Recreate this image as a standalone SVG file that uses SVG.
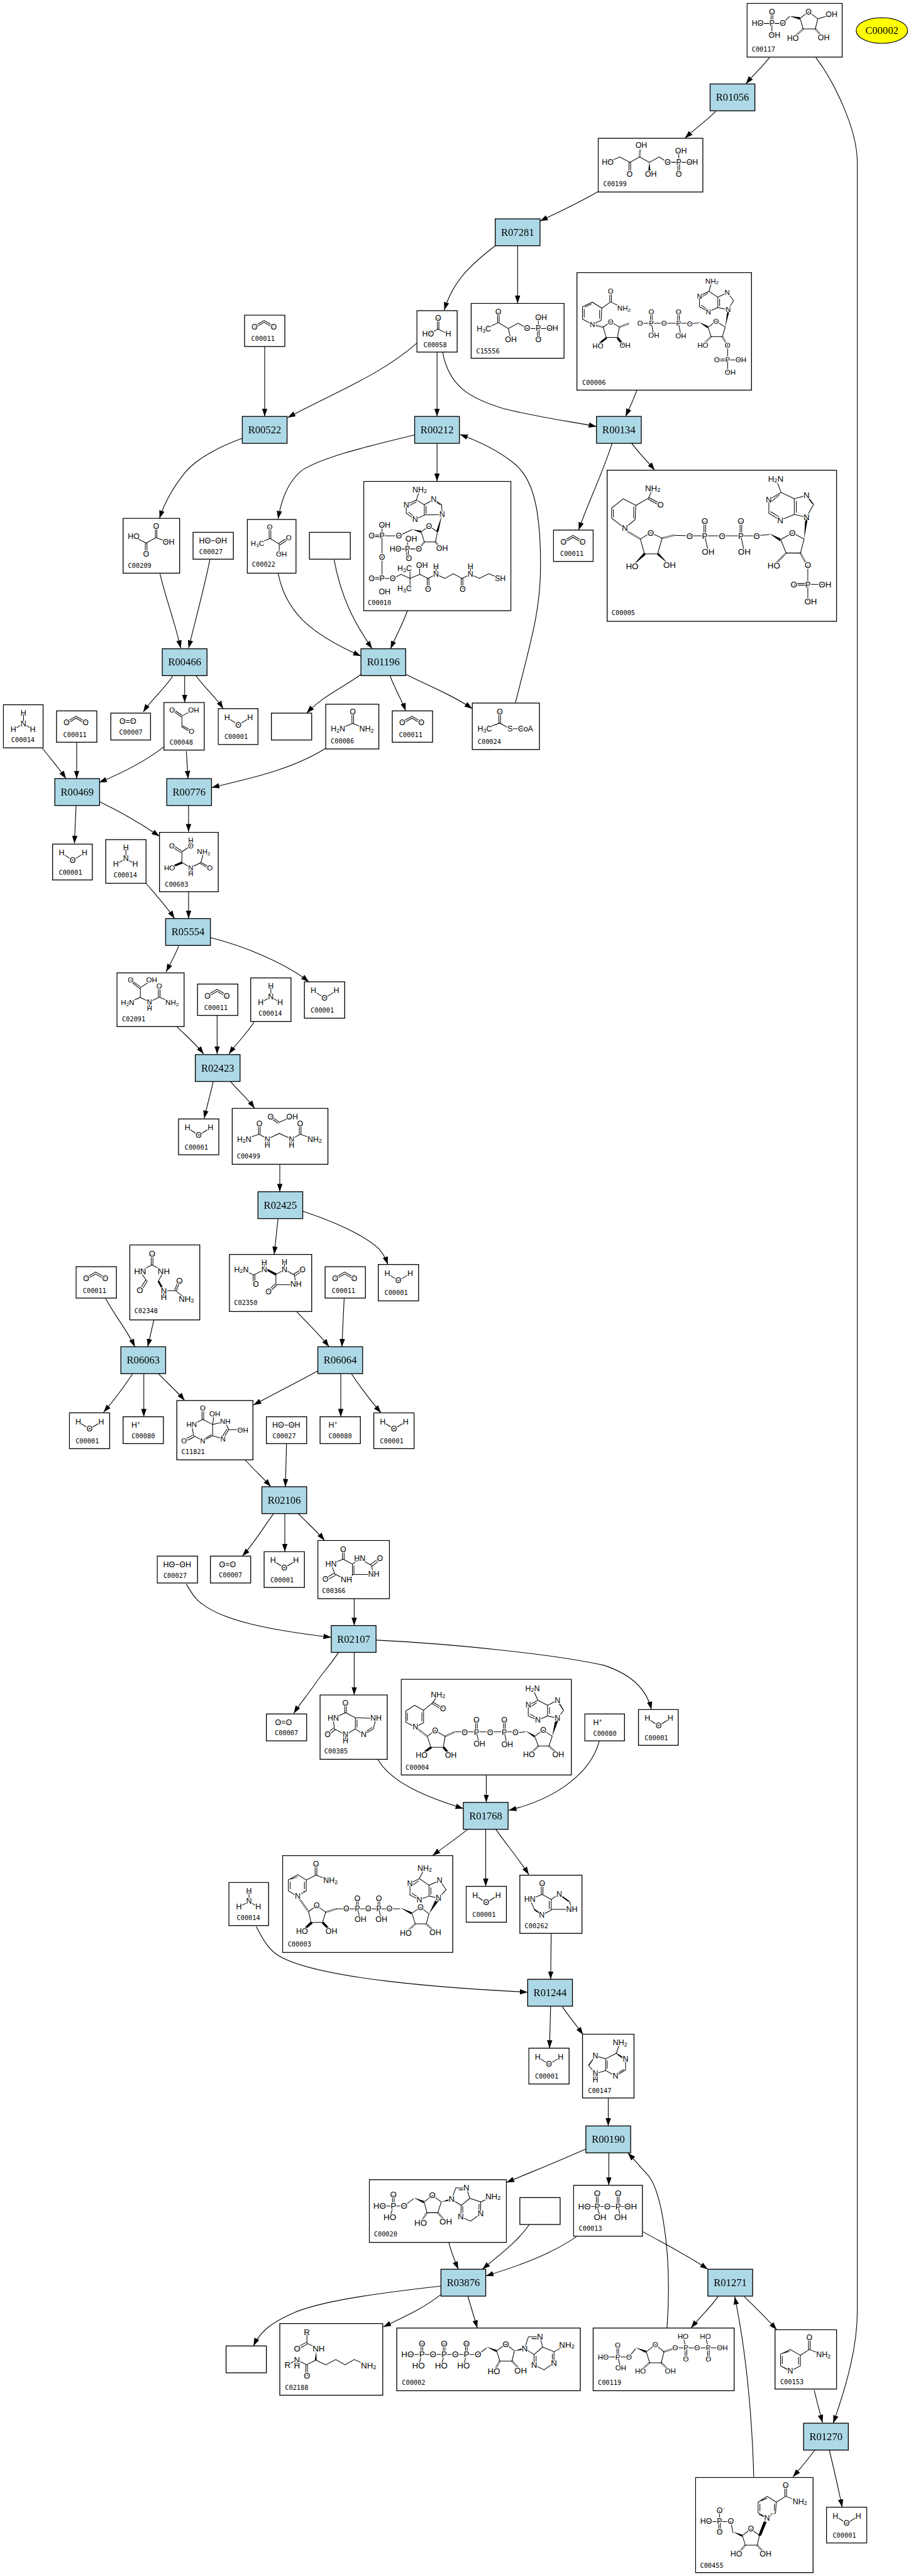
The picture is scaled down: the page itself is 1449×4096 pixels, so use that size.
<svg xmlns="http://www.w3.org/2000/svg" width="1449" height="4096" viewBox="0 0 1449 4096">
<style>
.n{fill:#fff;stroke:#000;stroke-width:1.5}
.r{fill:#add8e6;stroke:#000;stroke-width:1.5}
.rt{font:18.7px "Liberation Serif","Times New Roman",serif;text-anchor:middle;dominant-baseline:central;fill:#000}
.e{fill:none;stroke:#000;stroke-width:1.25;marker-end:url(#a)}
.b{fill:none;stroke:#000;stroke-width:1.15}
.w{fill:#000}
.h{fill:none;stroke:#000;stroke-width:3.5;stroke-dasharray:1 1.4}
.t text{font:14px "Liberation Sans",Arial,sans-serif;text-anchor:middle;dominant-baseline:central;fill:#000;paint-order:stroke;stroke:#fff;stroke-width:3px;stroke-linejoin:round}
.f12 text{font-size:12px}
.f13 text{font-size:13px}
.f15 text{font-size:15px}
.t text.l{font:11.6px "DejaVu Sans Mono",monospace;text-anchor:start;stroke:none}
.u{font-size:70%}
</style>
<defs>
<marker id="a" markerUnits="userSpaceOnUse" markerWidth="14" markerHeight="10" refX="14" refY="4.8" orient="auto" viewBox="0 0 14 9.6"><path d="M0 0L14 4.8L0 9.6z" fill="#000"/></marker>
</defs>
<g transform="scale(0.89005)" opacity="0.999">
<g id="connectors">
<path class="e" d="M1375 103C1362 120 1345 135 1333 150"/>
<path class="e" d="M1458 103C1490 145 1532 230 1532 290L1532 4130C1532 4190 1515 4255 1489 4329"/>
<path class="e" d="M1279 199C1262 216 1242 230 1224 247"/>
<path class="e" d="M1069 342C1035 362 1000 378 965 395"/>
<path class="e" d="M925 439V542"/>
<path class="e" d="M885 439C845 470 810 500 794 554"/>
<path class="e" d="M791 629C802 690 840 712 900 730C960 745 1020 753 1066 762"/>
<path class="e" d="M781 629V744"/>
<path class="e" d="M745 613C680 670 600 700 514 746"/>
<path class="e" d="M473 619V744"/>
<path class="e" d="M1138 697C1132 715 1125 728 1118 744"/>
<path class="e" d="M1094 792C1075 850 1050 900 1034 947"/>
<path class="e" d="M1129 792C1142 810 1158 825 1170 840"/>
<path class="e" d="M433 783C395 796 350 820 330 845C310 870 295 895 285 926"/>
<path class="e" d="M741 777C660 797 580 815 540 840C515 860 503 890 497 927"/>
<path class="e" d="M781 792V860"/>
<path class="e" d="M921 1256C950 1140 966 1090 966 1010C966 900 950 850 915 825C890 805 860 790 822 776"/>
<path class="e" d="M497 1024C510 1090 550 1130 645 1172"/>
<path class="e" d="M597 1000C610 1070 635 1115 665 1159"/>
<path class="e" d="M728 1091C720 1115 708 1135 698 1159"/>
<path class="e" d="M286 1025C295 1065 312 1110 323 1158"/>
<path class="e" d="M375 1000C365 1050 350 1105 337 1158"/>
<path class="e" d="M645 1205C610 1230 575 1245 548 1274"/>
<path class="e" d="M697 1207C705 1230 718 1250 725 1270"/>
<path class="e" d="M726 1205C765 1225 805 1240 844 1266"/>
<path class="e" d="M309 1207C295 1230 270 1250 256 1272"/>
<path class="e" d="M330 1207V1255"/>
<path class="e" d="M350 1207C365 1228 385 1245 399 1266"/>
<path class="e" d="M76 1337C90 1355 105 1372 118 1391"/>
<path class="e" d="M137 1326V1391"/>
<path class="e" d="M293 1334C260 1360 220 1380 177 1398"/>
<path class="e" d="M333 1342L336 1391"/>
<path class="e" d="M582 1337C520 1375 450 1390 378 1407"/>
<path class="e" d="M136 1438L133 1507"/>
<path class="e" d="M177 1432C215 1450 250 1470 285 1494"/>
<path class="e" d="M337 1438V1486"/>
<path class="e" d="M261 1578C278 1598 298 1620 312 1641"/>
<path class="e" d="M337 1592V1641"/>
<path class="e" d="M320 1688C314 1705 305 1720 297 1736"/>
<path class="e" d="M376 1675C435 1690 510 1720 552 1754"/>
<path class="e" d="M316 1834C332 1850 350 1865 364 1883"/>
<path class="e" d="M388 1814V1883"/>
<path class="e" d="M454 1826C442 1845 422 1865 409 1883"/>
<path class="e" d="M381 1932C376 1955 370 1975 365 1998"/>
<path class="e" d="M412 1932C425 1948 442 1962 455 1980"/>
<path class="e" d="M500 2080V2129"/>
<path class="e" d="M497 2176L490 2241"/>
<path class="e" d="M541 2164C590 2180 650 2205 677 2231C685 2240 690 2250 693 2259"/>
<path class="e" d="M189 2320C205 2350 228 2378 241 2406"/>
<path class="e" d="M275 2358L264 2406"/>
<path class="e" d="M529 2342C550 2365 572 2385 588 2406"/>
<path class="e" d="M615 2320L611 2406"/>
<path class="e" d="M237 2454C220 2480 205 2500 185 2523"/>
<path class="e" d="M257 2454V2531"/>
<path class="e" d="M283 2454C298 2470 316 2485 330 2502"/>
<path class="e" d="M568 2449C530 2470 490 2490 453 2510"/>
<path class="e" d="M609 2454V2531"/>
<path class="e" d="M628 2454C645 2480 662 2502 681 2524"/>
<path class="e" d="M438 2608C453 2625 470 2640 484 2656"/>
<path class="e" d="M512 2579L510 2656"/>
<path class="e" d="M489 2704C470 2730 453 2758 433 2780"/>
<path class="e" d="M509 2704V2772"/>
<path class="e" d="M533 2704C548 2720 566 2735 580 2752"/>
<path class="e" d="M333 2830C345 2850 350 2858 362 2866C400 2895 480 2912 592 2925"/>
<path class="e" d="M633 2856V2904"/>
<path class="e" d="M605 2952C590 2975 575 2990 562 3010C548 3030 535 3045 525 3061"/>
<path class="e" d="M633 2952V3028"/>
<path class="e" d="M672 2930C800 2936 990 2955 1079 2975C1125 2990 1155 3015 1164 3054"/>
<path class="e" d="M675 3143C700 3185 760 3210 828 3231"/>
<path class="e" d="M869 3171V3220"/>
<path class="e" d="M1071 3110C1055 3170 990 3215 909 3234"/>
<path class="e" d="M836 3268C815 3285 795 3298 773 3315"/>
<path class="e" d="M868 3268V3370"/>
<path class="e" d="M886 3268C905 3295 930 3325 945 3349"/>
<path class="e" d="M985 3454L984 3536"/>
<path class="e" d="M458 3442C470 3465 480 3482 495 3492C560 3535 800 3552 943 3559"/>
<path class="e" d="M984 3584L982 3659"/>
<path class="e" d="M1005 3585C1015 3600 1030 3618 1042 3635"/>
<path class="e" d="M1087 3748V3798"/>
<path class="e" d="M1047 3839C1000 3860 950 3880 905 3899"/>
<path class="e" d="M1088 3846V3904"/>
<path class="e" d="M1192 4159C1197 4090 1196 4030 1185 3965C1178 3925 1170 3900 1158 3886C1148 3875 1135 3860 1122 3846"/>
<path class="e" d="M802 4006C807 4025 813 4040 819 4054"/>
<path class="e" d="M946 3974C925 4005 890 4030 862 4054"/>
<path class="e" d="M1030 3996C980 4030 920 4050 868 4066"/>
<path class="e" d="M1149 3987C1190 4010 1230 4030 1265 4054"/>
<path class="e" d="M788 4084C690 4095 570 4110 520 4134C485 4150 465 4165 453 4191"/>
<path class="e" d="M788 4099C755 4125 720 4140 685 4157"/>
<path class="e" d="M836 4102L853 4159"/>
<path class="e" d="M1283 4103C1270 4122 1250 4140 1235 4159"/>
<path class="e" d="M1330 4103C1350 4122 1370 4142 1388 4162"/>
<path class="e" d="M1347 4425C1344 4320 1335 4210 1313 4103"/>
<path class="e" d="M1455 4270C1460 4290 1465 4310 1470 4328"/>
<path class="e" d="M1456 4377C1443 4395 1430 4410 1417 4425"/>
<path class="e" d="M1482 4377C1490 4410 1498 4445 1505 4479"/>
</g>
<g id="C00002_e"><ellipse cx="1576" cy="54.5" rx="46" ry="23" fill="#ff0" stroke="#000" stroke-width="1.33"/><text class="rt" x="1576" y="54.5">C00002</text></g>
<g id="R01056"><rect class="r" x="1269" y="150" width="80" height="48"/><text class="rt" x="1309" y="174">R01056</text></g>
<g id="R07281"><rect class="r" x="885" y="391" width="80" height="48"/><text class="rt" x="925" y="415">R07281</text></g>
<g id="R00522"><rect class="r" x="433" y="744" width="80" height="48"/><text class="rt" x="473" y="768">R00522</text></g>
<g id="R00212"><rect class="r" x="741" y="744" width="80" height="48"/><text class="rt" x="781" y="768">R00212</text></g>
<g id="R00134"><rect class="r" x="1066" y="744" width="80" height="48"/><text class="rt" x="1106" y="768">R00134</text></g>
<g id="R00466"><rect class="r" x="290" y="1159" width="80" height="48"/><text class="rt" x="330" y="1183">R00466</text></g>
<g id="R01196"><rect class="r" x="645" y="1159" width="80" height="48"/><text class="rt" x="685" y="1183">R01196</text></g>
<g id="R00469"><rect class="r" x="98" y="1391" width="80" height="48"/><text class="rt" x="138" y="1415">R00469</text></g>
<g id="R00776"><rect class="r" x="298" y="1391" width="80" height="48"/><text class="rt" x="338" y="1415">R00776</text></g>
<g id="R05554"><rect class="r" x="296" y="1641" width="80" height="48"/><text class="rt" x="336" y="1665">R05554</text></g>
<g id="R02423"><rect class="r" x="349" y="1884" width="80" height="48"/><text class="rt" x="389" y="1908">R02423</text></g>
<g id="R02425"><rect class="r" x="461" y="2129" width="80" height="48"/><text class="rt" x="501" y="2153">R02425</text></g>
<g id="R06063"><rect class="r" x="216" y="2406" width="80" height="48"/><text class="rt" x="256" y="2430">R06063</text></g>
<g id="R06064"><rect class="r" x="568" y="2406" width="80" height="48"/><text class="rt" x="608" y="2430">R06064</text></g>
<g id="R02106"><rect class="r" x="468" y="2656" width="80" height="48"/><text class="rt" x="508" y="2680">R02106</text></g>
<g id="R02107"><rect class="r" x="592" y="2904" width="80" height="48"/><text class="rt" x="632" y="2928">R02107</text></g>
<g id="R01768"><rect class="r" x="828" y="3220" width="80" height="48"/><text class="rt" x="868" y="3244">R01768</text></g>
<g id="R01244"><rect class="r" x="943" y="3536" width="80" height="48"/><text class="rt" x="983" y="3560">R01244</text></g>
<g id="R00190"><rect class="r" x="1047" y="3798" width="80" height="48"/><text class="rt" x="1087" y="3822">R00190</text></g>
<g id="R03876"><rect class="r" x="788" y="4054" width="80" height="48"/><text class="rt" x="828" y="4078">R03876</text></g>
<g id="R01271"><rect class="r" x="1265" y="4054" width="80" height="48"/><text class="rt" x="1305" y="4078">R01271</text></g>
<g id="R01270"><rect class="r" x="1436" y="4329" width="80" height="48"/><text class="rt" x="1476" y="4353">R01270</text></g>

<g id="blank_1"><rect class="n" x="553" y="951" width="73" height="48"/></g>
<g id="blank_2"><rect class="n" x="485" y="1274" width="72" height="48"/></g>
<g id="blank_3"><rect class="n" x="929" y="3926" width="72" height="48"/></g>
<g id="blank_4"><rect class="n" x="404" y="4191" width="72" height="48"/></g>

<g id="C00001_1" class="t" transform="translate(390,1266)"><rect class="n" width="71" height="64"/><path class="b" d="M16 16L36 29L57 16"/><text x="16" y="16">H</text><text x="36" y="29">O</text><text x="57" y="16">H</text><text class="l" x="11" y="50">C00001</text></g>
<g id="C00001_2" class="t" transform="translate(94,1508)"><rect class="n" width="71" height="64"/><path class="b" d="M16 16L36 29L57 16"/><text x="16" y="16">H</text><text x="36" y="29">O</text><text x="57" y="16">H</text><text class="l" x="11" y="50">C00001</text></g>
<g id="C00001_3" class="t" transform="translate(544,1754)"><rect class="n" width="72" height="65"/><path class="b" d="M16 16L36 29L57 16"/><text x="16" y="16">H</text><text x="36" y="29">O</text><text x="57" y="16">H</text><text class="l" x="11" y="50">C00001</text></g>
<g id="C00001_4" class="t" transform="translate(319,1999)"><rect class="n" width="72" height="64"/><path class="b" d="M16 16L36 29L57 16"/><text x="16" y="16">H</text><text x="36" y="29">O</text><text x="57" y="16">H</text><text class="l" x="11" y="50">C00001</text></g>
<g id="C00001_5" class="t" transform="translate(676,2259)"><rect class="n" width="72" height="65"/><path class="b" d="M16 16L36 29L57 16"/><text x="16" y="16">H</text><text x="36" y="29">O</text><text x="57" y="16">H</text><text class="l" x="11" y="50">C00001</text></g>
<g id="C00001_6" class="t" transform="translate(124,2524)"><rect class="n" width="72" height="64"/><path class="b" d="M16 16L36 29L57 16"/><text x="16" y="16">H</text><text x="36" y="29">O</text><text x="57" y="16">H</text><text class="l" x="11" y="50">C00001</text></g>
<g id="C00001_7" class="t" transform="translate(668,2524)"><rect class="n" width="72" height="64"/><path class="b" d="M16 16L36 29L57 16"/><text x="16" y="16">H</text><text x="36" y="29">O</text><text x="57" y="16">H</text><text class="l" x="11" y="50">C00001</text></g>
<g id="C00001_8" class="t" transform="translate(472,2772)"><rect class="n" width="72" height="64"/><path class="b" d="M16 16L36 29L57 16"/><text x="16" y="16">H</text><text x="36" y="29">O</text><text x="57" y="16">H</text><text class="l" x="11" y="50">C00001</text></g>
<g id="C00001_9" class="t" transform="translate(1141,3054)"><rect class="n" width="71" height="64"/><path class="b" d="M16 16L36 29L57 16"/><text x="16" y="16">H</text><text x="36" y="29">O</text><text x="57" y="16">H</text><text class="l" x="11" y="50">C00001</text></g>
<g id="C00001_10" class="t" transform="translate(833,3370)"><rect class="n" width="72" height="64"/><path class="b" d="M16 16L36 29L57 16"/><text x="16" y="16">H</text><text x="36" y="29">O</text><text x="57" y="16">H</text><text class="l" x="11" y="50">C00001</text></g>
<g id="C00001_11" class="t" transform="translate(945,3659)"><rect class="n" width="72" height="64"/><path class="b" d="M16 16L36 29L57 16"/><text x="16" y="16">H</text><text x="36" y="29">O</text><text x="57" y="16">H</text><text class="l" x="11" y="50">C00001</text></g>
<g id="C00001_12" class="t" transform="translate(1477,4479)"><rect class="n" width="72" height="64"/><path class="b" d="M16 16L36 29L57 16"/><text x="16" y="16">H</text><text x="36" y="29">O</text><text x="57" y="16">H</text><text class="l" x="11" y="50">C00001</text></g>

<g id="C00011_1" class="t" transform="translate(437,563)"><rect class="n" width="72" height="56"/><path class="b" d="M18 19.5L35 9.5L52 19.5M18 23L35 13L52 23"/><text x="18" y="21.5">O</text><text x="52" y="21.5">O</text><text class="l" x="12" y="42">C00011</text></g>
<g id="C00011_2" class="t" transform="translate(989,947)"><rect class="n" width="71" height="56"/><path class="b" d="M18 19.5L35 9.5L52 19.5M18 23L35 13L52 23"/><text x="18" y="21.5">O</text><text x="52" y="21.5">O</text><text class="l" x="12" y="42">C00011</text></g>
<g id="C00011_3" class="t" transform="translate(101,1270)"><rect class="n" width="72" height="56"/><path class="b" d="M18 19.5L35 9.5L52 19.5M18 23L35 13L52 23"/><text x="18" y="21.5">O</text><text x="52" y="21.5">O</text><text class="l" x="12" y="42">C00011</text></g>
<g id="C00011_4" class="t" transform="translate(701,1270)"><rect class="n" width="72" height="56"/><path class="b" d="M18 19.5L35 9.5L52 19.5M18 23L35 13L52 23"/><text x="18" y="21.5">O</text><text x="52" y="21.5">O</text><text class="l" x="12" y="42">C00011</text></g>
<g id="C00011_5" class="t" transform="translate(353,1758)"><rect class="n" width="72" height="56"/><path class="b" d="M18 19.5L35 9.5L52 19.5M18 23L35 13L52 23"/><text x="18" y="21.5">O</text><text x="52" y="21.5">O</text><text class="l" x="12" y="42">C00011</text></g>
<g id="C00011_6" class="t" transform="translate(136,2263)"><rect class="n" width="72" height="56"/><path class="b" d="M18 19.5L35 9.5L52 19.5M18 23L35 13L52 23"/><text x="18" y="21.5">O</text><text x="52" y="21.5">O</text><text class="l" x="12" y="42">C00011</text></g>
<g id="C00011_7" class="t" transform="translate(581,2263)"><rect class="n" width="72" height="56"/><path class="b" d="M18 19.5L35 9.5L52 19.5M18 23L35 13L52 23"/><text x="18" y="21.5">O</text><text x="52" y="21.5">O</text><text class="l" x="12" y="42">C00011</text></g>

<g id="C00014_1" class="t" transform="translate(6,1259)"><rect class="n" width="71" height="77"/><path class="b" d="M36 15V34M36 34L18 44M36 34L52.5 44"/><text x="36" y="15">H</text><text x="36" y="34">N</text><text x="18" y="44">H</text><text x="52.5" y="44">H</text><text class="l" x="14" y="62.5">C00014</text></g>
<g id="C00014_2" class="t" transform="translate(189,1500)"><rect class="n" width="72" height="78"/><path class="b" d="M36 15V34M36 34L18 44M36 34L52.5 44"/><text x="36" y="15">H</text><text x="36" y="34">N</text><text x="18" y="44">H</text><text x="52.5" y="44">H</text><text class="l" x="14" y="62.5">C00014</text></g>
<g id="C00014_3" class="t" transform="translate(448,1747)"><rect class="n" width="72" height="78"/><path class="b" d="M36 15V34M36 34L18 44M36 34L52.5 44"/><text x="36" y="15">H</text><text x="36" y="34">N</text><text x="18" y="44">H</text><text x="52.5" y="44">H</text><text class="l" x="14" y="62.5">C00014</text></g>
<g id="C00014_4" class="t" transform="translate(409,3363)"><rect class="n" width="71" height="77"/><path class="b" d="M36 15V34M36 34L18 44M36 34L52.5 44"/><text x="36" y="15">H</text><text x="36" y="34">N</text><text x="18" y="44">H</text><text x="52.5" y="44">H</text><text class="l" x="14" y="62.5">C00014</text></g>

<g id="C00007_1" class="t" transform="translate(198,1274)"><rect class="n" width="71" height="48"/><path class="b" d="M21 13H40M21 16.5H40"/><text x="21" y="15">O</text><text x="40" y="15">O</text><text class="l" x="15" y="33.5">C00007</text></g>
<g id="C00007_2" class="t" transform="translate(376,2780)"><rect class="n" width="72" height="48"/><path class="b" d="M21 13H40M21 16.5H40"/><text x="21" y="15">O</text><text x="40" y="15">O</text><text class="l" x="15" y="33.5">C00007</text></g>
<g id="C00007_3" class="t" transform="translate(476,3062)"><rect class="n" width="72" height="48"/><path class="b" d="M21 13H40M21 16.5H40"/><text x="21" y="15">O</text><text x="40" y="15">O</text><text class="l" x="15" y="33.5">C00007</text></g>

<g id="C00027_1" class="t" transform="translate(345,951)"><rect class="n" width="72" height="48"/><path class="b" d="M21 15H50"/><text x="21" y="15">HO</text><text x="50" y="15">OH</text><text class="l" x="11" y="34">C00027</text></g>
<g id="C00027_2" class="t" transform="translate(476,2531)"><rect class="n" width="72" height="48"/><path class="b" d="M21 15H50"/><text x="21" y="15">HO</text><text x="50" y="15">OH</text><text class="l" x="11" y="34">C00027</text></g>
<g id="C00027_3" class="t" transform="translate(281,2780)"><rect class="n" width="72" height="48"/><path class="b" d="M21 15H50"/><text x="21" y="15">HO</text><text x="50" y="15">OH</text><text class="l" x="11" y="34">C00027</text></g>

<g id="C00080_1" class="t" transform="translate(220,2531)"><rect class="n" width="72" height="48"/><text x="20" y="15.5">H</text><text x="28" y="11.5" style="font-size:10px">+</text><text class="l" x="15" y="34">C00080</text></g>
<g id="C00080_2" class="t" transform="translate(572,2531)"><rect class="n" width="72" height="48"/><text x="20" y="15.5">H</text><text x="28" y="11.5" style="font-size:10px">+</text><text class="l" x="15" y="34">C00080</text></g>
<g id="C00080_3" class="t" transform="translate(1045,3062)"><rect class="n" width="71" height="48"/><text x="20" y="15.5">H</text><text x="28" y="11.5" style="font-size:10px">+</text><text class="l" x="15" y="34">C00080</text></g>

<g id="C00117" class="t" transform="translate(1335,6)"><rect class="n" width="170" height="96"/><path class="b" d="M19 36H64M43 15V36M46 15V36M44.5 36V57M64 36L76 23M94.8 26.7L110 15L126.4 27.6L122 45.6H100.3L94.8 26.7M126.4 27.6L151 20"/><path class="w" d="M76 23L95 24.5L94 29z"/><path class="h" d="M100.3 45.6L86 59M122 45.6L133 58"/><text x="44.5" y="15">O</text><text x="19" y="36">HO</text><text x="44.5" y="36">P</text><text x="49" y="57">OH</text><text x="64" y="36">O</text><text x="110" y="15">O</text><text x="151" y="20">OH</text><text x="82" y="62">HO</text><text x="137" y="61">OH</text><text class="l" x="8.4" y="81.4">C00117</text></g>

<g id="C00199" class="t" transform="translate(1069,247)"><rect class="n" width="187" height="96"/><path class="b" d="M17 43L38.6 33.4L56.5 43L74 33.4L91.4 43L109 33.4L124 43H168M55 43V63M58 43V63M144 23V43M142.3 43V63.5M145.5 43V63.5"/><path class="h" d="M74 33.4L75 19"/><path class="w" d="M91.4 43L89.5 58L93.5 58z"/><text x="17" y="43">HO</text><text x="77" y="13">OH</text><text x="56" y="64">O</text><text x="94" y="64">OH</text><text x="124" y="43">O</text><text x="144" y="43">P</text><text x="148" y="23">OH</text><text x="168" y="43">OH</text><text x="144" y="64">O</text><text class="l" x="9" y="81.4">C00199</text></g>

<g id="C15556" class="t" transform="translate(842,542)"><rect class="n" width="166" height="98"/><path class="b" d="M23 46L48.6 34.4L66.5 45L84 35.4L100 45H145M47.2 15V34M50 15V34M66.5 45L70.7 64M120 25V45M118.5 45V64M121.5 45V64"/><text x="48.6" y="15">O</text><text x="22.7" y="46">H<tspan class="u" dy="3">3</tspan><tspan dy="-3">C</tspan></text><text x="71" y="64.5">OH</text><text x="100" y="45">O</text><text x="120" y="45">P</text><text x="125" y="25">OH</text><text x="145" y="45">OH</text><text x="120" y="64.5">O</text><text class="l" x="9" y="85">C15556</text></g>

<g id="C00058" class="t" transform="translate(745,555)"><rect class="n" width="72" height="74"/><path class="b" d="M36.7 13V33M39.3 13V33M20 42L38 33L56 42"/><text x="38" y="13">O</text><text x="20" y="42">HO</text><text x="56" y="42">H</text><text class="l" x="11.7" y="61">C00058</text></g>

<g id="C00209" class="t" transform="translate(220,926)"><rect class="n" width="101" height="98"/><path class="b" d="M19 33L41.3 44L59 34.3L81 43M57.7 15V34M60.3 15V34M39.7 44V63M42.7 44V63"/><text x="59" y="14.7">O</text><text x="19" y="32.7">HO</text><text x="81.3" y="42.7">OH</text><text x="41" y="63.7">O</text><text class="l" x="8.7" y="83.7">C00209</text></g>

<g id="C00022" class="t f13" transform="translate(442,928)"><rect class="n" width="87" height="96"/><path class="b" d="M39 13V34M42 13V34M18 43L41 34L57 44M55.5 43L73 32M58 45.5L74 35M57 44V62"/><text x="40" y="13">O</text><text x="18" y="43">H<tspan class="u" dy="3">3</tspan><tspan dy="-3">C</tspan></text><text x="74" y="33">O</text><text x="61" y="62">OH</text><text class="l" x="8.3" y="80">C00022</text></g>

<g id="C00048" class="t f13" transform="translate(293,1255)"><rect class="n" width="72" height="85"/><path class="b" d="M15 11.5L32 22.5M15 14.5L31 25.5M32 24L53 13M32 24V41M32 41L49 50M31 43L48 53"/><text x="14.7" y="13">O</text><text x="53" y="13">OH</text><text x="49" y="52">O</text><text class="l" x="10" y="70.5">C00048</text></g>

<g id="C00086" class="t" transform="translate(582,1258)"><rect class="n" width="95" height="80"/><path class="b" d="M47 14V34M50 14V34M22 45L48.5 34.4L73 45"/><text x="48.5" y="14.3">O</text><text x="22" y="44.6">H<tspan class="u" dy="3">2</tspan><tspan dy="-3">N</tspan></text><text x="73" y="44.6">NH<tspan class="u" dy="3">2</tspan></text><text class="l" x="9" y="65.6">C00086</text></g>

<g id="C00024" class="t" transform="translate(844,1256)"><rect class="n" width="120" height="83"/><path class="b" d="M47.5 15V36M50.5 15V36M22 46L49 35.7L67.6 46H95"/><text x="49" y="15.6">O</text><text x="22.3" y="46">H<tspan class="u" dy="3">3</tspan><tspan dy="-3">C</tspan></text><text x="67.6" y="46">S</text><text x="95" y="46">CoA</text><text class="l" x="9.6" y="68.8">C00024</text></g>

<g id="C00603" class="t f13" transform="translate(285,1487)"><rect class="n" width="105" height="106"/><path class="b" d="M23 22.5L40 33.3M21.5 25.5L39 36.3M40 34.8L56 24V14M40 34.8V54L56 63L74 54L79 35M74 54L90 62M73 56L89 65M56 63V74"/><path class="w" d="M40 52L41 56L25 62L24 59z"/><text x="56" y="13.8">H</text><text x="56" y="24">O</text><text x="22.3" y="24">O</text><text x="79" y="34.8">NH<tspan class="u" dy="3">2</tspan></text><text x="18" y="63">HO</text><text x="56" y="63">N</text><text x="56" y="74">H</text><text x="90" y="63">O</text><text class="l" x="9.6" y="92.4">C00603</text></g>

<g id="C02091" class="t f13" transform="translate(209,1738)"><rect class="n" width="120" height="96"/><path class="b" d="M24 12L41.8 25M24.5 15L40.5 28M41.8 26.3L62 13M41.8 26.3V44L19 53M41.8 44L58 52L75.5 43.3L98.5 53M74 24V43M77 24V43M58 52V63"/><text x="24.5" y="13">O</text><text x="62" y="13">OH</text><text x="75.5" y="24">O</text><text x="19" y="53">H<tspan class="u" dy="3">2</tspan><tspan dy="-3">N</tspan></text><text x="58" y="52">N</text><text x="58" y="63.4">H</text><text x="98.5" y="53">NH<tspan class="u" dy="3">2</tspan></text><text class="l" x="9" y="81.7">C02091</text></g>

<g id="C00499" class="t" transform="translate(415,1980)"><rect class="n" width="171" height="100"/><path class="b" d="M68.5 13.5L83 24M68 16.5L82 27M82.6 25.4L107 15M21 55L48.5 46.4L62.8 55L84.2 44.8L106 55L121.4 46.4L147 55M47 28V46M50 28V46M120 28V46M123 28V46M62.8 55V65M106 55V65"/><text x="68.4" y="15">O</text><text x="107" y="15">OH</text><text x="21.4" y="55.4">H<tspan class="u" dy="3">2</tspan><tspan dy="-3">N</tspan></text><text x="48.5" y="27.7">O</text><text x="62.8" y="55.4">N</text><text x="62.8" y="65.6">H</text><text x="106" y="55.4">N</text><text x="106" y="65.6">H</text><text x="121.4" y="27.7">O</text><text x="147.4" y="55.4">NH<tspan class="u" dy="3">2</tspan></text><text class="l" x="8.2" y="84.8">C00499</text></g>

<g id="C02348" class="t f15" transform="translate(232,2224)"><rect class="n" width="125" height="134"/><path class="b" d="M38.3 16V36M41.3 16V36M18 47L39.8 35.7L60.7 47L51 64.7M18 47L30 64M29 62L17 80M31.5 64L20 83M60.7 81.7H81.6L101 97M80 81L87 64M83 82L90 65M60.7 81.7V93"/><path class="w" d="M49.5 65L52.5 64L60.7 79L57.5 80z"/><text x="39.8" y="15.6">O</text><text x="18.4" y="47.3">HN</text><text x="60.7" y="47.3">NH</text><text x="17.9" y="81.4">O</text><text x="60.7" y="81.7">N</text><text x="60.7" y="93">H</text><text x="88.8" y="64">O</text><text x="101" y="97">NH<tspan class="u" dy="3">2</tspan></text><text class="l" x="8.2" y="118">C02348</text></g>

<g id="C02350" class="t" transform="translate(410,2241)"><rect class="n" width="147" height="102"/><path class="b" d="M21 27L44 36.6L62 27M42.5 36.6V54M45.5 36.6V54M62 27V15M83 36L98.5 27L116 36.6L119 54H83V36M98.5 27V15M115 35L130 26M117 38L131 29M81.5 53L69 65M84 55.5L71 67.5"/><path class="w" d="M66 25L67 29L83 38L84 34z"/><text x="21.4" y="27.2">H<tspan class="u" dy="3">2</tspan><tspan dy="-3">N</tspan></text><text x="47" y="53.6">O</text><text x="62.2" y="27.2">N</text><text x="62.2" y="15.2">H</text><text x="98.5" y="27">N</text><text x="98.5" y="14.3">H</text><text x="130.6" y="27">O</text><text x="119" y="53.6">NH</text><text x="70" y="66.5">O</text><text class="l" x="8.2" y="86">C02350</text></g>

<g id="C11821" class="t f13" transform="translate(316,2502)"><rect class="n" width="136" height="106"/><path class="b" d="M45 14V34M48 14V34M46.4 33.9L64 42.9L66.5 24M64 42.9L86.5 37.5L92.9 52L82.6 68.4L64 63V42.9M46.4 33.9L26.5 43.3L30 63L46.4 72L64 63M28.5 62L12.5 70M31 65L14 73.5M50 68L62 61M90 51L80 66M92.9 52H118"/><text x="46.4" y="13.8">O</text><text x="67.9" y="23.7">OH</text><text x="86.5" y="37.5">NH</text><text x="26.5" y="43.3">HN</text><text x="12.8" y="71.9">O</text><text x="46.4" y="71.9">N</text><text x="82.6" y="68.4">N</text><text x="118" y="52.7">OH</text><text class="l" x="8.2" y="90.6">C11821</text></g>

<g id="C00366" class="t" transform="translate(568,2752)"><rect class="n" width="128" height="104"/><path class="b" d="M44 16V33.5M47 16V33.5M45.3 33.5L23.6 42L30.6 60L51 70.5L61.8 62.5V42.4L45.3 33.5M61.8 42.4L75 32.6L95.7 44.6L100 60.7H61.8M64.5 45V60M29 58.5L13 68M32 62L15 71.5M94 43L110 31.5M97 46L112 34"/><text x="45.3" y="16">O</text><text x="75" y="32.6">HN</text><text x="111" y="32.6">O</text><text x="23.6" y="42">HN</text><text x="13.4" y="69.6">O</text><text x="51" y="70.5">NH</text><text x="100" y="60.7">NH</text><text class="l" x="7.6" y="89.7">C00366</text></g>

<g id="C00385" class="t" transform="translate(572,3028)"><rect class="n" width="120" height="115"/><path class="b" d="M44 15V32M47 15V32M45.3 31.7L23.6 42L25.5 60.7L45.3 71L63 60.7V40.6L45.3 31.7M63 40.6L100 42L95 60.7L78 71L63 60.7M66 44V58M24 59L12.5 69M27 62L14.5 72M93 58L80 67M45.3 71V81"/><text x="45.3" y="14.7">O</text><text x="23.6" y="42">HN</text><text x="13.4" y="70.5">O</text><text x="45.3" y="71">N</text><text x="45.3" y="81.7">H</text><text x="100" y="42">NH</text><text x="78" y="71">N</text><text class="l" x="7.6" y="100">C00385</text></g>

<g id="C00262" class="t" transform="translate(929,3350)"><rect class="n" width="111" height="104"/><path class="b" d="M38.3 14.5V34M41.3 14.5V34M39.8 34.4L18 43.2L26.5 62.4L39.3 71.2L56 62.4V43.2L39.8 34.4M56 43.2L70.4 33.7L88.8 47L93 61H56M25 60L37 68M73 37L87 47M52.5 46V60"/><text x="39.8" y="14.5">O</text><text x="18" y="43.2">HN</text><text x="39.3" y="71.2">N</text><text x="70.4" y="33.7">N</text><text x="93" y="61">NH</text><text class="l" x="8.7" y="90">C00262</text></g>

<g id="C00147" class="t" transform="translate(1041,3634)"><rect class="n" width="92" height="114"/><path class="b" d="M67 15L60.2 34.4L77 44V64L59 74.6L41.3 65V44L60.2 34.4M41.3 44L23 39L10.7 55.5L23 70.8L41.3 65M23 71V81.5M63 37L75 45M61 71L74 63M44 47V62M20 43L12 55"/><text x="67" y="15.3">NH<tspan class="u" dy="3">2</tspan></text><text x="77" y="44">N</text><text x="59" y="74.6">N</text><text x="23" y="39">N</text><text x="23" y="70.8">N</text><text x="23" y="81.5">H</text><text class="l" x="9.7" y="100.6">C00147</text></g>

<g id="C00006" class="t f13" transform="translate(1031,487)"><rect class="n" width="312" height="210"/><path class="b" d="M58.7 33V52.4M61.7 33V52.4M60 52.4L84 63.5M60 52.4L44.4 63.5L43.3 85.3L27.5 92.6L10 83V61L27.5 52.8L44.4 63.5M40.5 67V82M13 65V80M14 62L26 56M76 97.4L60.2 87.7L47 97.5L52.3 115.9H72.3L76 97.4M113 90.6H202M131.5 70V90M134.5 70V90M133 90.6L137.3 112M180 70V90M183 70V90M181.6 90.6L185.8 113M201.7 91.6L217.5 90M234.4 97.4L248.7 86.8L265 97.4L259.8 114.4H239.7L234.4 97.4M270 66L280 50L268.7 36L251.8 44V62.5L270 66M251.8 44L236 33.4L219 41.7V61L235 70L251.8 62.5M236 33.4L241.3 15M269.3 130V178M250 154.5H269M250 157.5H269M269.3 156H293M222 44L234 37M222 58L233 66M255 47V60"/><path class="w" d="M265 97.4L269 66L273 67z"/><path class="w" d="M217.5 88L234.4 95.5L233.5 99.5z"/><path class="w" d="M52 115L54 118L38 130L36 128z"/><path class="w" d="M71 118L74 115L84 128L81 130z"/><path class="h" d="M27.5 92.6L47 97.5M76 97.4L93.4 90.6M239.7 114.4L226 128M259.8 114.4L269 130"/><text x="60.2" y="33">O</text><text x="84" y="63.5">NH<tspan class="u" dy="3">2</tspan></text><text x="27.5" y="92.6">N</text><text x="60.2" y="87.7">O</text><text x="37.5" y="130.4">HO</text><text x="86" y="130">OH</text><text x="113" y="90.6">O</text><text x="133" y="90.6">P</text><text x="133" y="70.3">O</text><text x="137.3" y="112">OH</text><text x="155.8" y="90.6">O</text><text x="181.6" y="90.6">P</text><text x="181.6" y="70.3">O</text><text x="185.8" y="113">OH</text><text x="201.7" y="91.6">O</text><text x="248.7" y="86.8">O</text><text x="225" y="130">HO</text><text x="269.3" y="130">O</text><text x="269.3" y="156">P</text><text x="250" y="156">O</text><text x="293" y="156">OH</text><text x="274" y="178">OH</text><text x="270.3" y="66">N</text><text x="268.7" y="36">N</text><text x="235" y="70">N</text><text x="219" y="41.7">N</text><text x="241.3" y="15">NH<tspan class="u" dy="3">2</tspan></text><text class="l" x="9.5" y="196.3">C00006</text></g>

<g id="C00010" class="t" transform="translate(650,860)"><rect class="n" width="263" height="231"/><path class="b" d="M100 15L94 33.3L76 41.7V56.7L91.7 68.3L108.3 60V41.7L94 33.3M108.3 41.7L125 32.3L139.3 41.7L140 59.3L108.3 60M80 44L94 36.5M80 55L91 63.5M111.5 44V58M127 35L137 42M102.7 90L116.7 80L131.7 90L128.3 108.3H108.3L102.7 90M62.7 97.3L86.7 86M14 95.8H32.7M14 98.8H32.7M32.7 97.3H62.7M32.7 77.7V173.3M14 171.8H32.7M14 174.8H32.7M32.7 173.3H51.7L66.7 166L82.7 173.3L100 166L115 173.3L129.3 166L145 173.3L160 165L175.7 173.3L190.7 166L206.7 173.3L223.3 165L244 173.3M82.7 156V192M100 166V150M113.5 173V192.7M116.5 173V192.7M174.2 173V192.7M177.2 173V192.7M129.3 166V153M190.7 166V153M56.7 120.7H98.3M78.3 103V121M76.8 121V137M79.8 121V137"/><path class="w" d="M140 59L129.5 90L133.5 90z"/><path class="w" d="M86.7 86L103 88L102 92z"/><path class="h" d="M108.3 108.3L98.3 120.7M128.3 108.3L138 120"/><text x="100" y="15">NH<tspan class="u" dy="3">2</tspan></text><text x="76" y="41.7">N</text><text x="91.7" y="68.3">N</text><text x="125" y="32.3">N</text><text x="140" y="59.3">N</text><text x="116.7" y="80">O</text><text x="62.7" y="97.3">O</text><text x="32.7" y="97.3">P</text><text x="14" y="97.3">O</text><text x="37.3" y="77.7">OH</text><text x="32.7" y="135.7">O</text><text x="32.7" y="173.3">P</text><text x="14" y="173.3">O</text><text x="37.3" y="196.7">OH</text><text x="51.7" y="173.3">O</text><text x="73" y="156">H<tspan class="u" dy="3">3</tspan><tspan dy="-3">C</tspan></text><text x="73" y="192">H<tspan class="u" dy="3">3</tspan><tspan dy="-3">C</tspan></text><text x="104" y="150">OH</text><text x="115" y="193">O</text><text x="129.3" y="166">N</text><text x="129.3" y="152.7">H</text><text x="176.7" y="193">O</text><text x="190.7" y="166">N</text><text x="190.7" y="152.7">H</text><text x="244" y="173.3">SH</text><text x="98.3" y="120.7">O</text><text x="78.3" y="120.7">P</text><text x="56.7" y="120.7">HO</text><text x="85" y="103">OH</text><text x="80.7" y="137.3">O</text><text x="140" y="120">OH</text><text class="l" x="7.3" y="216">C00010</text></g>

<g id="C00005" class="t f15" transform="translate(1085,840)"><rect class="n" width="410" height="270"/><path class="b" d="M28.6 51L51.3 62.8L50 88.3L31.5 103.6L8 85.7V67.9L28.6 51M51.3 62.8L74 50L81.4 32M74 48.5L95 60M73 51.5L94 63M47.5 65V86M11 70V84M59.4 123L77.7 111.7L98.3 121.4L90.2 149.5H66.7L59.4 123M120 116.5L147 117.3H267M173 91V117M176 91V117M174.5 117L180.4 145M237.5 91V117M240.5 91V117M239 117L245 146M267 117L290 115M310 124L331 112L352 123L345.4 148H320L310 124M358.6 170V234M334 202.5H358.6M334 205.5H358.6M358.6 204H390M356 84L369 61L356.4 45L334.4 51V79L356.4 84M334.4 51L311 39.8L289 52.6V77L309.5 89.3L334.4 79M311 39.8L301.4 15M338 55V76M292 57L308 44M292 74L308 84M358 48L367 60"/><path class="w" d="M66 147L69 151L46 170z"/><path class="w" d="M89 151L92 148L108 166z"/><path class="w" d="M290 113L310 122L309 127z"/><path class="w" d="M352 123L354 84L359 84z"/><path class="h" d="M34 108L59.4 123M98.3 121.4L120 116M320 148L302 166M345.4 148L356 168"/><text x="81.4" y="32">NH<tspan class="u" dy="3">2</tspan></text><text x="95.3" y="61.7">O</text><text x="31.5" y="103.6">N</text><text x="77.7" y="111.7">O</text><text x="44.7" y="171.4">HO</text><text x="111.5" y="170">OH</text><text x="147.4" y="117.3">O</text><text x="174.5" y="117.3">P</text><text x="174.5" y="90.8">O</text><text x="180.4" y="145.4">OH</text><text x="205.4" y="117.3">O</text><text x="239" y="117.3">P</text><text x="239" y="90.8">O</text><text x="245" y="146">OH</text><text x="267" y="117.3">O</text><text x="330.8" y="111.7">O</text><text x="297.8" y="171">HO</text><text x="358.6" y="170">O</text><text x="358.6" y="204">P</text><text x="333.7" y="204">O</text><text x="389.5" y="204">OH</text><text x="363.8" y="234.6">OH</text><text x="356.4" y="84">N</text><text x="356.4" y="45">N</text><text x="309.5" y="89.3">N</text><text x="289" y="52.6">N</text><text x="301.4" y="15.3">H<tspan class="u" dy="3">2</tspan><tspan dy="-3">N</tspan></text><text class="l" x="8" y="254.6">C00005</text></g>

<g id="C00004" class="t" transform="translate(717,3000)"><rect class="n" width="304" height="171"/><path class="b" d="M24 46.4L40 55.4V77.7L25.5 85.3L8.3 76.8V56.7L24 46.4M40 55.4L56 42L65.7 27.7M56 40.5L75 52M55 43.5L74 55M37 59V75M11 60V74M46.6 102L60.6 91.5L78.4 102L75.3 121.4H53L46.6 102M95.7 94H204M133 73V95M136 73V95M134.6 95.5L139.7 116M182.8 73V95M185.8 73V95M184.3 95.5L189.4 117M204 95.5L222 94M238.5 102L253.8 90.6L269.8 102L264 119.2H245L238.5 102M279.3 69.6L290.2 55.4L279.3 37.5L261.5 46.4V65.6L279.3 69.6M261.5 46.4L244.3 37.5L227 46.4V65.6L244.3 73.2L261.5 65.6M244.3 37.5L234.7 16.5M265 50V62M230 50L242 42M230 62L242 69M281 42L289 54"/><path class="w" d="M52 120L55 123L38 134L36 132z"/><path class="w" d="M74 123L77 120L87 132L84 134z"/><path class="w" d="M222 92L238.5 100L238 104z"/><path class="w" d="M269.8 102L276 68L282 70z"/><path class="h" d="M25.5 85.3L46.6 102M78.4 102L95.7 94M245 119.2L232 132M264 119.2L278 132"/><text x="65.7" y="27.7">NH<tspan class="u" dy="3">2</tspan></text><text x="74.6" y="53">O</text><text x="25.5" y="85.3">N</text><text x="60.6" y="91.5">O</text><text x="36.4" y="136">HO</text><text x="88.6" y="136">OH</text><text x="113.5" y="95.5">O</text><text x="134.6" y="95.5">P</text><text x="134.6" y="73">O</text><text x="139.7" y="116">OH</text><text x="158.8" y="95.5">O</text><text x="184.3" y="95.5">P</text><text x="184.3" y="73">O</text><text x="189.4" y="117">OH</text><text x="204" y="95.5">O</text><text x="253.8" y="90.6">O</text><text x="228.3" y="134.8">HO</text><text x="280.6" y="134.8">OH</text><text x="279.3" y="69.6">N</text><text x="279.3" y="37.5">N</text><text x="244.3" y="73.2">N</text><text x="227" y="46.4">N</text><text x="234.7" y="16.5">H<tspan class="u" dy="3">2</tspan><tspan dy="-3">N</tspan></text><text class="l" x="7.7" y="156.7">C00004</text></g>

<g id="C00003" class="t" transform="translate(505,3315)"><rect class="n" width="304" height="173"/><path class="b" d="M58.2 15V35M61.2 15V35M59.7 34.8L85.7 44.8M59.7 34.8L42.3 43.6V62.8L27 73L10.2 62.8V43.6L27 34L42.3 43.6M39 47V60M13.5 47V60M15 42L27 37.5M29 70L39 64M46.4 100L60.7 89.6L77 101L71.4 119.4H51L46.4 100M96 95.3H191M132.2 77V95M135.2 77V95M133.7 95.3L139.3 114.4M170.5 77V95M173.5 77V95M172 95.3L176.5 114.4M191 95.3L210 95M231 103L246.4 92.6L261.7 104L256.6 122H237.2L231 103M278.6 76L292.3 60.8L280.6 44.4L261.7 53V72.3L278.6 76M261.7 53L244.4 41L227.6 50V70.4L244.4 78.8L261.7 72.3M244.4 41L254 22.6M265 57V70M231 54L243 45M231 67L243 75M283 48L291 59"/><path class="w" d="M50 118L54 121L41 132L38 130z"/><path class="w" d="M70 121L73 118L84 130L81 132z"/><path class="w" d="M210 93L231 101L230 105z"/><path class="w" d="M261.7 104L275 75L281 78z"/><path class="h" d="M27 73L46.4 100M77 101L96 95.3M237.2 122L224 134M256.6 122L270 134"/><text x="59.7" y="15">O</text><text x="85.7" y="44.8">NH<tspan class="u" dy="3">2</tspan></text><text x="27" y="73">N</text><text x="34.7" y="67.5" style="font-size:9px">+</text><text x="60.7" y="89.6">O</text><text x="34.7" y="135.5">HO</text><text x="87.2" y="135.5">OH</text><text x="113.8" y="95.3">O</text><text x="133.7" y="95.3">P</text><text x="133.7" y="77">O</text><text x="139.3" y="114.4">OH</text><text x="153" y="95.3">O</text><text x="172" y="95.3">P</text><text x="172" y="77">O</text><text x="176.5" y="114.4">OH</text><text x="190.8" y="95.3">O</text><text x="246.4" y="92.6">O</text><text x="220" y="138.5">HO</text><text x="273" y="137.8">OH</text><text x="278.6" y="76">N</text><text x="280.6" y="44.4">N</text><text x="244.4" y="78.8">N</text><text x="227.6" y="50">N</text><text x="254" y="22.6">NH<tspan class="u" dy="3">2</tspan></text><text class="l" x="9.2" y="158.4">C00003</text></g>

<g id="C00020" class="t f15" transform="translate(660,3894)"><rect class="n" width="245" height="112"/><path class="b" d="M41.4 27V47M44.4 27V47M18 47H62M42.9 47L36.7 67M62.2 47L79 34M98 39.7L112.8 28L128.6 39.7L122.4 59H103L98 39.7M147 35L154.6 14.7H173.5L179.6 33.3L164.3 45.7L147 35M164.3 45.7L163.3 66.3L181 74L199 60.7V39.7L179.6 33.3M199 39.7L221 29.7M160 18H171M167 47V63M196 43V58"/><path class="w" d="M79 32L98 38L97 42z"/><path class="w" d="M128.6 39.7L147 33V37z"/><path class="h" d="M103 59L93 74M122.4 59L134 72"/><text x="42.9" y="26.7">O</text><text x="42.9" y="47">P</text><text x="18.4" y="47">HO</text><text x="36.7" y="67">HO</text><text x="62.2" y="47">O</text><text x="112.8" y="28">O</text><text x="91.8" y="77.3">HO</text><text x="136.7" y="75">OH</text><text x="147" y="35">N</text><text x="173.5" y="14.7">N</text><text x="163.3" y="66.3">N</text><text x="199" y="60.7">N</text><text x="221" y="29.7">NH<tspan class="u" dy="3">2</tspan></text><text class="l" x="8.2" y="96.7">C00020</text></g>

<g id="C00013" class="t f15" transform="translate(1025,3904)"><rect class="n" width="123" height="91"/><path class="b" d="M19 38H102M40.8 15V38M43.8 15V38M42.3 38L47.4 57M78.1 15V38M81.1 15V38M79.6 38L84 57"/><text x="42.3" y="14.7">O</text><text x="79.6" y="14.7">O</text><text x="19.4" y="38">HO</text><text x="42.3" y="38">P</text><text x="60.2" y="38">O</text><text x="79.6" y="38">P</text><text x="102" y="38">OH</text><text x="47.4" y="57">OH</text><text x="84" y="57">OH</text><text class="l" x="9.2" y="76.7">C00013</text></g>

<g id="C02188" class="t f15" transform="translate(500,4151)"><rect class="n" width="184" height="128"/><path class="b" d="M48.5 15V35.3L69.4 44.7L64.3 50M47.5 33.5L30 43M49.5 36.5L32 46M64.3 65.3L48 73.7L30.6 64.7M46.5 74V93.7M49.5 74V93.7M64.3 65.3L82 73.7L100 64.3L116.8 73.7L133 64.3L158.7 75.3M30.6 64.7L13.8 73.7M30.6 64.7V75"/><path class="w" d="M62.5 65.3L66 65.3L65 50z"/><text x="48.5" y="15.3">R</text><text x="31" y="44.7">O</text><text x="69.4" y="44.7">NH</text><text x="48.5" y="93.7">O</text><text x="30.6" y="64.7">N</text><text x="30.6" y="75.3">H</text><text x="13.8" y="73.7">R</text><text x="158.7" y="75.3">NH<tspan class="u" dy="3">2</tspan></text><text class="l" x="9.2" y="113.7">C02188</text></g>

<g id="C00002_n" class="t f15" transform="translate(709,4159)"><rect class="n" width="328" height="112"/><path class="b" d="M19 47.3H145M43.5 27V47M46.5 27V47M45 47.3L38.8 67.7M83.2 27V47M86.2 27V47M84.7 47.3L79.6 67.7M123 27V47M126 27V47M124.5 47.3L119.4 67.7M145 47.3L160.2 35.7M178.6 40.7L194.9 28.7L210.2 40.7L206 59H184.2L178.6 40.7M228.6 36.7L235.2 15.7H256L260.7 34L245.4 47.3L228.6 36.7M245.4 47.3V65.7L263.3 74.7L281 62.3V42.3L260.7 34M281 42.3L304 30M241 19H253M249 50V63M278 46V60"/><path class="w" d="M160.2 33.5L178.6 39L178 43z"/><path class="w" d="M210.2 40.7L228.6 34.7V38.7z"/><path class="h" d="M184.2 59L175 75M206 59L218 72"/><text x="19.4" y="47.3">HO</text><text x="45" y="47.3">P</text><text x="45" y="27.3">O</text><text x="38.8" y="67.7">HO</text><text x="64.8" y="47.3">O</text><text x="84.7" y="47.3">P</text><text x="84.7" y="27.3">O</text><text x="79.6" y="67.7">HO</text><text x="104.6" y="47.3">O</text><text x="124.5" y="47.3">P</text><text x="124.5" y="27.3">O</text><text x="119.4" y="67.7">HO</text><text x="145" y="47.3">O</text><text x="194.9" y="28.7">O</text><text x="173.5" y="77.7">HO</text><text x="221.4" y="75.7">OH</text><text x="228.6" y="36.7">N</text><text x="256" y="15.7">N</text><text x="245.4" y="65.7">N</text><text x="281" y="62.3">N</text><text x="304" y="30">NH<tspan class="u" dy="3">2</tspan></text><text class="l" x="9.2" y="97.3">C00002</text></g>

<g id="C00119" class="t f13" transform="translate(1060,4159)"><rect class="n" width="252" height="112"/><path class="b" d="M18 51.6H64M42.5 31V51M45.5 31V51M44 51.6L49.3 71.6M64 51.6L75.7 37M95 42.5L111 29.6L126.6 42.5L121.7 62H101L95 42.5M146.6 35.4H231M160.6 14.6L165.8 35.4M164.3 35V55.4M167.3 35V55.4M200.6 14.6L205.9 35.4M204.4 35V55.4M207.4 35V55.4"/><path class="w" d="M75.7 35L95 40.5L94 44.5z"/><path class="h" d="M126.6 42.5L146 36M101 62L86 75M121.7 62L135 75"/><text x="44" y="31">O</text><text x="18" y="51.6">HO</text><text x="44" y="51.6">P</text><text x="49.3" y="71.6">OH</text><text x="64" y="51.6">O</text><text x="111" y="29.6">O</text><text x="84.5" y="76.6">HO</text><text x="137.8" y="76.6">OH</text><text x="146.6" y="35.4">O</text><text x="165.8" y="35.4">P</text><text x="160.6" y="14.6">HO</text><text x="165.8" y="55.4">O</text><text x="185.8" y="35.4">O</text><text x="205.9" y="35.4">P</text><text x="200.6" y="14.6">HO</text><text x="205.9" y="55.4">O</text><text x="231" y="35.4">OH</text><text class="l" x="8.4" y="96.6">C00119</text></g>

<g id="C00153" class="t" transform="translate(1385,4162)"><rect class="n" width="110" height="106"/><path class="b" d="M59.8 14.6V35.4M62.8 14.6V35.4M61.3 35.4L86.5 45M61.3 35.4L45.3 45.8V64.6L27.2 74L10 64.6V43.7L27.2 35.4L45.3 45.8M42 49V62M13 47V61M14 42L26 38.5M13 66L25 72"/><text x="61.3" y="14.6">O</text><text x="86.5" y="45">NH<tspan class="u" dy="3">2</tspan></text><text x="27.2" y="74">N</text><text class="l" x="9.2" y="92.9">C00153</text></g>

<g id="C00455" class="t" transform="translate(1243,4426)"><rect class="n" width="210" height="170"/><path class="b" d="M159.5 14V33.7M162.5 14V33.7M161 33.7L186.3 43M161 33.7L144.2 44L143 63L127.8 72.5L111.8 63V44L128 33.7L144.2 44M141 47V60M115 47V60M116 42L128 37M113 66L125 71M83.7 103.7L98.9 92L114.3 103.7L110 121H88.9L83.7 103.7M62.9 78.7L66.9 99M18.9 78.7H62.9M42.9 58.7V78.7M41.4 78.7V97.5M44.4 78.7V97.5"/><path class="w" d="M112 103.7L117 104L127 80L122 78z"/><path class="w" d="M66.9 97L83.7 102L83 106z"/><path class="h" d="M88.9 121L77 134M110 121L122 134"/><text x="161" y="14">O</text><text x="186.3" y="43">NH<tspan class="u" dy="3">2</tspan></text><text x="127.8" y="72.5">N</text><text x="135.8" y="65" style="font-size:9px">+</text><text x="98.9" y="92">O</text><text x="62.9" y="78.7">O</text><text x="42.9" y="78.7">P</text><text x="18.9" y="78.7">HO</text><text x="42.9" y="58.7">O</text><text x="50.5" y="53.7" style="font-size:9px">-</text><text x="42.9" y="97.5">O</text><text x="72.9" y="136.6">HO</text><text x="125" y="136.6">OH</text><text class="l" x="8" y="157">C00455</text></g>
</g>
</svg>
